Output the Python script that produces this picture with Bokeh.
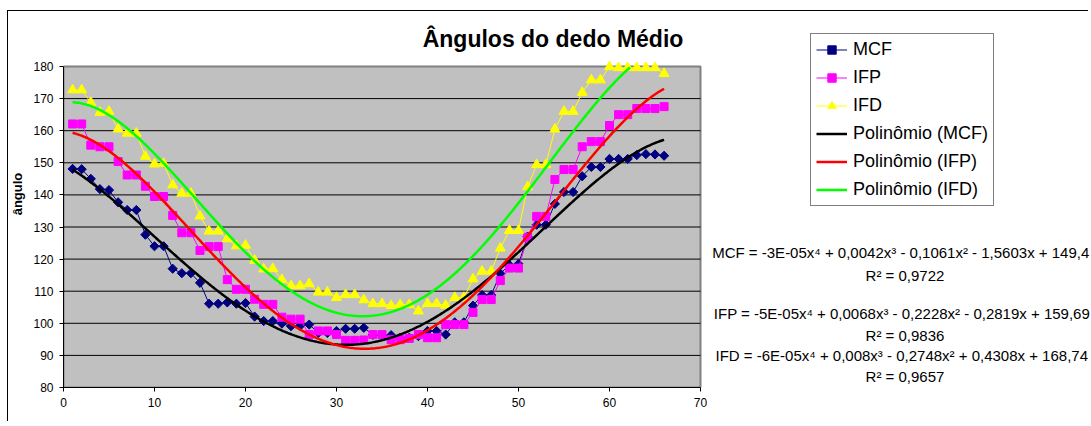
import numpy as np
from bokeh.plotting import figure
from bokeh.models import Legend, LegendItem, Label, FixedTicker, InlineStyleSheet
from bokeh.embed import file_html
from bokeh.resources import INLINE

# ---------------- data ----------------
x_vals = list(range(1, 67))

mcf = [148.1, 148.0, 145.0, 141.8, 141.5, 137.7, 135.3, 135.3, 127.6, 124.0,
       124.0, 117.0, 115.6, 115.6, 112.6, 106.1, 106.1, 106.5, 106.1, 106.3,
       102.1, 100.7, 100.7, 99.9, 99.1, 99.2, 99.6, 97.0, 97.0, 97.6,
       98.3, 98.3, 98.6, 96.4, 96.2, 96.3, 95.5, 95.5, 96.0, 97.6,
       97.6, 96.5, 100.3, 100.3, 105.5, 108.8, 108.8, 115.5, 118.2, 118.5,
       127.0, 130.7, 130.7, 137.2, 140.9, 140.9, 145.8, 148.7, 148.7, 151.2,
       151.2, 151.2, 152.4, 152.7, 152.6, 152.2]

ifp = [162.1, 162.1, 155.5, 155.0, 155.0, 150.4, 146.2, 146.2, 142.7, 139.5,
       139.5, 133.6, 128.2, 128.2, 122.7, 123.9, 123.9, 113.6, 110.6, 110.6,
       107.5, 105.9, 105.9, 101.9, 101.3, 101.3, 96.5, 97.6, 97.6, 96.5,
       94.7, 94.7, 94.8, 96.5, 96.5, 94.9, 94.9, 95.3, 96.5, 95.5,
       95.5, 99.6, 99.6, 99.6, 103.4, 107.4, 107.4, 113.3, 117.2, 117.2,
       126.8, 133.3, 133.3, 144.8, 147.9, 147.9, 155.0, 156.6, 156.6, 161.6,
       165.0, 165.0, 166.9, 166.9, 166.9, 167.5]

ifd = [172.7, 172.7, 168.8, 165.7, 166.0, 160.5, 159.2, 159.2, 152.0, 149.6,
       149.8, 143.1, 140.5, 140.5, 133.4, 128.7, 128.7, 126.3, 124.1, 124.3,
       119.6, 116.9, 117.0, 113.6, 111.7, 111.7, 112.3, 109.7, 109.7, 108.0,
       108.9, 108.9, 107.3, 106.1, 106.1, 105.5, 105.8, 105.8, 103.8, 106.1,
       106.1, 105.6, 108.0, 108.0, 113.8, 116.2, 116.2, 123.4, 128.9, 128.9,
       142.5, 149.4, 149.4, 160.5, 166.0, 166.0, 171.9, 175.8, 175.8, 179.9,
       179.6, 179.6, 179.6, 179.6, 179.6, 177.8]

series_names = ["MCF", "IFP", "IFD"]
trend_names = ["Polinômio (MCF)", "Polinômio (IFP)", "Polinômio (IFD)"]
equations = [
    "MCF = -3E-05x\u2074 + 0,0042x\u00b3 - 0,1061x\u00b2 - 1,5603x + 149,4",
    "IFP = -5E-05x\u2074 + 0,0068x\u00b3 - 0,2228x\u00b2 - 0,2819x + 159,69",
    "IFD = -6E-05x\u2074 + 0,008x\u00b3 - 0,2748x\u00b2 + 0,4308x + 168,74",
]
r2_texts = ["R\u00b2 = 0,9722", "R\u00b2 = 0,9836", "R\u00b2 = 0,9657"]
title_text = "Ângulos do dedo Médio"
y_label = "ângulo"
x_ticks = [0, 10, 20, 30, 40, 50, 60, 70]
y_ticks = [80, 90, 100, 110, 120, 130, 140, 150, 160, 170, 180]

FONT = "Liberation Sans"

# ---------------- geometry (pixels) ----------------
W, H = 1091, 426
LEFT, BOTTOM = 63, 39                     # space for the axes
PX_X = 637 / (x_ticks[-1] - x_ticks[0])   # pixels per x unit
PX_Y = 321 / (y_ticks[-1] - y_ticks[0])   # pixels per y unit
frame_w = W - LEFT
frame_h = H - BOTTOM
x_range = (x_ticks[0], x_ticks[0] + frame_w / PX_X)
y_range = (y_ticks[0], y_ticks[0] + frame_h / PX_Y)


def dx(cx):
    return x_ticks[0] + (cx - LEFT) / PX_X


def dy(cy):
    return y_ticks[0] + (frame_h - cy) / PX_Y


# ---------------- figure ----------------
border_css = InlineStyleSheet(css="""
:host::after {
  content: "";
  position: fixed;
  left: 7px; top: 10px;
  width: 1080px; height: 410px;
  border-left: 1px solid black;
  border-top: 1px solid black;
  pointer-events: none;
  z-index: 5;
}
""")

p = figure(width=W, height=H, x_range=x_range, y_range=y_range, title=None,
           output_backend="svg", toolbar_location=None,
           min_border_left=LEFT, min_border_right=0,
           min_border_top=0, min_border_bottom=BOTTOM,
           stylesheets=[border_css])
p.background_fill_color = "white"
p.border_fill_color = "white"
p.outline_line_color = None
p.grid.visible = False

# plot area (grey) with its border, and horizontal gridlines
p.quad(left=x_ticks[0], right=x_ticks[-1], bottom=y_ticks[0], top=y_ticks[-1],
       fill_color="#C0C0C0", line_color="#808080", line_width=2)
grid_y = y_ticks[1:-1]
p.segment(x0=[x_ticks[0]] * len(grid_y), y0=grid_y,
          x1=[x_ticks[-1]] * len(grid_y), y1=grid_y,
          line_color="black", line_width=1)

p.xaxis.ticker = FixedTicker(ticks=x_ticks)
p.yaxis.ticker = FixedTicker(ticks=y_ticks)
p.xaxis.bounds = (x_ticks[0], x_ticks[-1])
p.yaxis.bounds = (y_ticks[0], y_ticks[-1])
for ax in (p.xaxis, p.yaxis):
    ax.axis_line_color = "black"
    ax.major_tick_line_color = "black"
    ax.major_tick_out = 4
    ax.major_tick_in = 0
    ax.minor_tick_line_color = None
    ax.major_label_text_font = FONT
    ax.major_label_text_font_size = "12px"
    ax.major_label_text_color = "black"
    ax.major_label_standoff = 6

p.yaxis.axis_label = y_label
p.yaxis.axis_label_text_font = FONT
p.yaxis.axis_label_text_font_size = "13px"
p.yaxis.axis_label_text_font_style = "bold"
p.yaxis.axis_label_text_color = "black"
p.yaxis.axis_label_standoff = 5

# ---------------- series ----------------
data_series = [mcf, ifp, ifd]
line_colors = ["#000080", "#FF00FF", "#FFFF00"]
trend_colors = ["black", "#FF0000", "#00FF00"]
marker_kw = [dict(marker="square", angle=np.pi / 4, size=6.5),
             dict(marker="square", size=8),
             dict(marker="triangle", size=10)]

items = []
for name, ys, col, mk in zip(series_names, data_series, line_colors, marker_kw):
    ln = p.line(x_vals, ys, line_color=col, line_width=1)
    sc = p.scatter(x_vals, ys, fill_color=col, line_color=col, **mk)
    items.append(LegendItem(label=name, renderers=[ln, sc]))

xs_fine = np.linspace(min(x_vals), max(x_vals), 400)
for name, ys, col in zip(trend_names, data_series, trend_colors):
    coefs = np.polyfit(x_vals, ys, 4)
    fit = np.polyval(coefs, xs_fine)
    fit = np.where(fit <= y_ticks[-1], fit, np.nan)   # clipped by the plot area
    tr = p.line(xs_fine, fit, line_color=col, line_width=2.5)
    items.append(LegendItem(label=name, renderers=[tr]))

LEG_LEFT, LEG_BOTTOM = 810, 206
legend = Legend(items=items, location=(LEG_LEFT - LEFT, frame_h - LEG_BOTTOM))
legend.label_text_font = FONT
legend.label_text_font_size = "18px"
legend.label_text_color = "black"
legend.glyph_width = 31
legend.glyph_height = 21
legend.label_height = 21
legend.spacing = 7
legend.padding = 5
legend.margin = 0
legend.label_standoff = 6
legend.border_line_color = "black"
legend.border_line_width = 1
legend.background_fill_color = "white"
legend.background_fill_alpha = 1
p.add_layout(legend)

# ---------------- texts ----------------
p.add_layout(Label(x=dx(552.5), y=dy(38.5), text=title_text, text_align="center",
                   text_baseline="alphabetic", text_font=FONT, text_font_size="23px",
                   text_font_style="bold", text_color="black"))

eq_left = [711.7, 713.3, 715.0]
eq_base = [251.8, 312.8, 355.2]
r2_center = 904.5
r2_base = [274.5, 334.5, 376.2]
for eq, r2, el, yb1, yb2 in zip(equations, r2_texts, eq_left, eq_base, r2_base):
    p.add_layout(Label(x=dx(el), y=dy(yb1), text=eq, text_align="left",
                       text_baseline="alphabetic", text_font=FONT,
                       text_font_size="15px", text_color="black"))
    p.add_layout(Label(x=dx(r2_center), y=dy(yb2), text=r2, text_align="center",
                       text_baseline="alphabetic", text_font=FONT,
                       text_font_size="15px", text_color="black"))

open("out.html", "w").write(file_html(p, INLINE))
